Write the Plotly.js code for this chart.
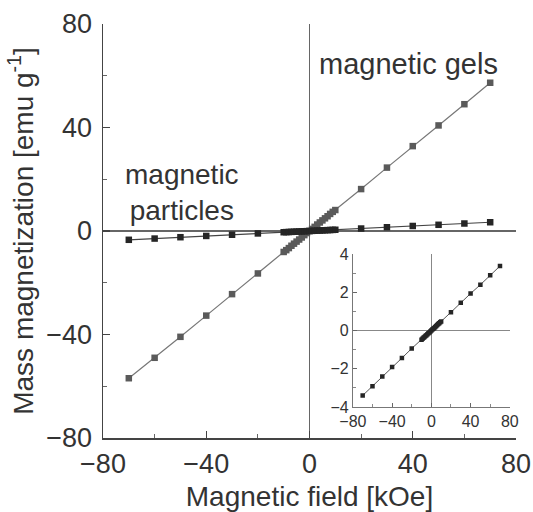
<!DOCTYPE html>
<html>
<head>
<meta charset="utf-8">
<script src="https://cdn.plot.ly/plotly-3.0.1.min.js"></script>
<style>html,body{margin:0;padding:0;background:#fff;}#chart{width:533px;height:512px;}</style>
</head>
<body>
<div id="chart"></div>
<script>
// Magnetic field values (kOe)
const fieldKOe = [-70,-60,-50,-40,-30,-20,-10,-9,-8,-7,-6,-5,-4,-3,-2,-1,0,1,2,3,4,5,6,7,8,9,10,20,30,40,50,60,70];
// Magnetic particles (steep curve), emu/g
const particlesMag = [-56.9,-49.0,-40.9,-32.7,-24.4,-16.4,-8.1,-7.4,-6.6,-5.7,-4.9,-4.1,-3.3,-2.5,-1.6,-0.8,0,0.8,1.6,2.5,3.3,4.1,4.9,5.7,6.6,7.4,8.1,16.2,24.5,32.8,40.8,49.0,57.3];
// Magnetic gels (flat curve), emu/g
const gelsMag = [-3.40,-2.92,-2.40,-1.91,-1.44,-0.94,-0.48,-0.43,-0.38,-0.34,-0.29,-0.24,-0.19,-0.14,-0.10,-0.05,0,0.05,0.10,0.14,0.19,0.24,0.29,0.34,0.38,0.43,0.48,0.96,1.46,1.94,2.40,2.90,3.38];

const mainTicks = [-80,-40,0,40,80];
const insetXTicks = [-80,-40,0,40,80];
const insetYTicks = [-4,-2,0,2,4];

const FONT = 'Liberation Sans, Arial, Helvetica, sans-serif';
const TXT = '#333';

const traces = [
  {x: fieldKOe, y: particlesMag, xaxis:'x', yaxis:'y', mode:'lines+markers', name:'magnetic particles',
   line:{color:'#777', width:1.2}, marker:{symbol:'square', size:6.5, color:'#5a5a5a'}},
  {x: fieldKOe, y: gelsMag, xaxis:'x', yaxis:'y', mode:'lines+markers', name:'magnetic gels',
   line:{color:'#444', width:1.2}, marker:{symbol:'square', size:6.5, color:'#252525'}},
  {x: fieldKOe, y: gelsMag, xaxis:'x2', yaxis:'y2', mode:'lines+markers', name:'magnetic gels (inset)',
   line:{color:'#555', width:1}, marker:{symbol:'square', size:4.5, color:'#252525'}}
];

const axMain = {
  range:[-80,80], tickvals: mainTicks, ticktext: mainTicks.map(v=>v<0?'\u2212'+(-v):String(v)),
  ticks:'inside', ticklen:7, tickwidth:1.2, tickcolor:'#444',
  minor:{tickvals:[-60,-20,20,60], ticks:'inside', ticklen:4, tickwidth:1, tickcolor:'#666'},
  showline:true, linecolor:'#444', linewidth:1.5, showgrid:false,
  zeroline:true, zerolinecolor:'#666', zerolinewidth:1.5,
  tickfont:{family:FONT, size:27, color:TXT}, fixedrange:true
};
const axInset = {
  tickfont:{family:FONT, size:16, color:TXT},
  ticks:'inside', ticklen:4, tickwidth:1, tickcolor:'#666',
  showline:true, linecolor:'#777', linewidth:1, showgrid:false,
  zeroline:true, zerolinecolor:'#888', zerolinewidth:1, fixedrange:true
};

const layout = {
  width:533, height:512,
  margin:{l:103, r:17, t:24, b:74},
  paper_bgcolor:'#fff', plot_bgcolor:'rgba(0,0,0,0)',
  showlegend:false,
  font:{family:FONT, color:TXT},
  xaxis: Object.assign({}, axMain, {domain:[0,1], anchor:'y', ticklabelstandoff:1,
    title:{text:'Magnetic field [kOe]', font:{family:FONT, size:28, color:TXT}, standoff:8}}),
  yaxis: Object.assign({}, axMain, {domain:[0,1], anchor:'x', ticklabelstandoff:4,
    title:{text:'Mass magnetization [emu g<sup>-1</sup>]', font:{family:FONT, size:28, color:TXT}, standoff:4}}),
  xaxis2: Object.assign({}, axInset, {domain:[0.605,0.985], anchor:'y2', range:[-80,80],
    tickvals: insetXTicks, ticktext: insetXTicks.map(v=>v<0?'\u2212'+(-v):String(v)),
    minor:{tickvals:[-60,-20,20,60], ticks:'inside', ticklen:3, tickcolor:'#888'}}),
  yaxis2: Object.assign({}, axInset, {domain:[0.075,0.444], anchor:'x2', range:[-4,4],
    tickvals: insetYTicks, ticktext: insetYTicks.map(v=>v<0?'\u2212'+(-v):String(v)),
    minor:{tickvals:[-3,-1,1,3], ticks:'inside', ticklen:3, tickcolor:'#888'}}),
  annotations:[
    {text:'magnetic gels', x:38.5, y:64.6, xref:'x', yref:'y', showarrow:false,
     font:{family:FONT, size:29, color:TXT}},
    {text:'magnetic<br>particles', x:-49.5, y:15, xref:'x', yref:'y', showarrow:false,
     font:{family:FONT, size:28, color:TXT}}
  ]
};

Plotly.newPlot('chart', traces, layout, {displayModeBar:false, staticPlot:true});
</script>
</body>
</html>
